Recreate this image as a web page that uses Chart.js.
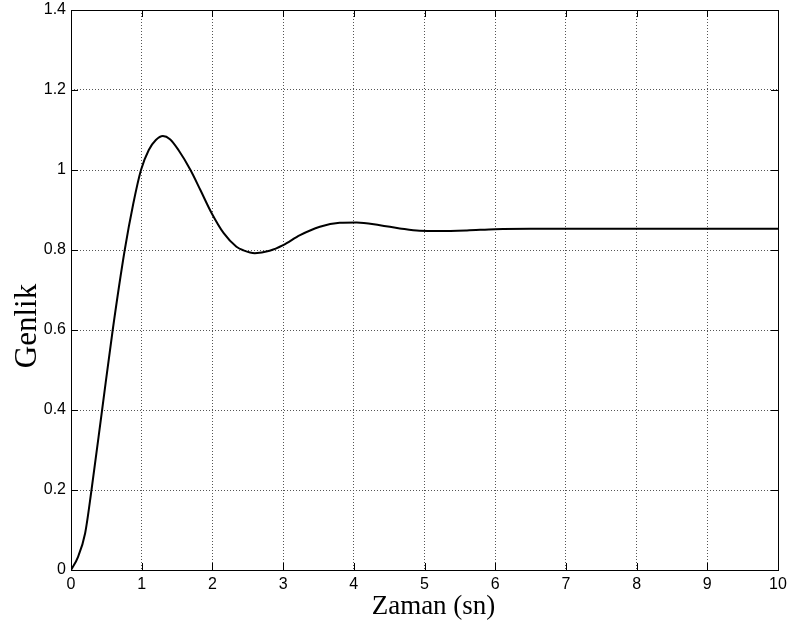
<!DOCTYPE html>
<html>
<head>
<meta charset="utf-8">
<script src="https://cdn.jsdelivr.net/npm/chart.js@4/dist/chart.umd.min.js"></script>
<style>
  html, body { margin: 0; padding: 0; background: #fff; }
  #wrap { width: 787px; height: 623px; }
</style>
</head>
<body>
<div id="wrap"><canvas id="c"></canvas></div>
<script>
// values
const times = [0, 0.1, 0.2, 0.29, 0.44, 0.59, 0.76, 0.88, 0.99, 1.1, 1.2, 1.3, 1.4, 1.52, 1.69, 1.83, 1.99, 2.16, 2.34, 2.44, 2.6, 2.81, 3.0, 3.24, 3.52, 3.8, 4.04, 4.37, 4.65, 4.93, 5.21, 5.6, 6.0, 6.5, 7.0, 8.0, 9.0, 10.0];
const amplitude = [0, 0.033, 0.092, 0.2, 0.4, 0.6, 0.8, 0.915, 1.0, 1.05, 1.075, 1.085, 1.077, 1.05, 1.0, 0.95, 0.892, 0.842, 0.808, 0.799, 0.792, 0.798, 0.812, 0.837, 0.858, 0.868, 0.869, 0.862, 0.854, 0.848, 0.8475, 0.849, 0.852, 0.853, 0.853, 0.853, 0.853, 0.853];
const xTickLabels = ['0', '1', '2', '3', '4', '5', '6', '7', '8', '9', '10'];
const yTickLabels = ['0', '0.2', '0.4', '0.6', '0.8', '1', '1.2', '1.4'];
const xTitle = 'Zaman (sn)';
const yTitle = 'Genlik';

const points = times.map((t, i) => ({ x: t, y: amplitude[i] }));

// box, inward ticks and axis titles, matlab style
const matlabAxes = {
  id: 'matlabAxes',
  afterDraw(chart) {
    const { ctx, chartArea: a, scales } = chart;
    ctx.save();
    ctx.strokeStyle = '#000';
    ctx.lineWidth = 1;
    ctx.beginPath();
    scales.x.ticks.forEach(t => {
      const px = Math.round(scales.x.getPixelForValue(t.value)) + 0.5;
      ctx.moveTo(px, a.bottom); ctx.lineTo(px, a.bottom - 7);
      ctx.moveTo(px, a.top); ctx.lineTo(px, a.top + 7);
    });
    scales.y.ticks.forEach(t => {
      const py = Math.round(scales.y.getPixelForValue(t.value)) + 0.5;
      ctx.moveTo(a.left, py); ctx.lineTo(a.left + 7, py);
      ctx.moveTo(a.right, py); ctx.lineTo(a.right - 7, py);
    });
    ctx.stroke();
    ctx.strokeRect(Math.round(a.left) + 0.5, Math.round(a.top) + 0.5,
      Math.round(a.right - a.left), Math.round(a.bottom - a.top));

    ctx.fillStyle = '#000';
    ctx.font = '27px "Liberation Serif", "Times New Roman", serif';
    ctx.textAlign = 'center';
    ctx.textBaseline = 'alphabetic';
    ctx.fillText(xTitle, (a.left + a.right) / 2 + 9, a.bottom + 44);

    ctx.translate(a.left - 35, (a.top + a.bottom) / 2 + 36);
    ctx.rotate(-Math.PI / 2);
    ctx.font = '31px "Liberation Serif", "Times New Roman", serif';
    ctx.fillText(yTitle, 0, 0);
    ctx.restore();
  }
};

const tickFont = { family: '"Liberation Sans", Arial, sans-serif', size: 16 };
// tick marks drawn by the plugin; the library's own ones are kept invisible
// and only used as spacing between axis and labels
const gridOpts = { color: '#555', lineWidth: 1, drawTicks: true, tickLength: 5, tickColor: 'rgba(0,0,0,0)' };

new Chart(document.getElementById('c'), {
  type: 'line',
  data: {
    datasets: [{
      data: points,
      borderColor: '#000',
      borderWidth: 2,
      pointRadius: 0,
      fill: false,
      cubicInterpolationMode: 'monotone'
    }]
  },
  options: {
    responsive: true,
    maintainAspectRatio: false,
    animation: false,
    layout: { padding: { top: 10, right: 9, left: 0, bottom: 0 } },
    plugins: { legend: { display: false }, tooltip: { enabled: false } },
    scales: {
      x: {
        type: 'linear',
        min: 0,
        max: 10,
        ticks: {
          stepSize: 1,
          color: '#000',
          font: tickFont,
          padding: 0,
          maxRotation: 0,
          callback: (v, i) => xTickLabels[i]
        },
        grid: gridOpts,
        border: { display: false, dash: [1, 2] },
        afterFit(s) { s.height = 53; }
      },
      y: {
        min: 0,
        max: 1.4,
        ticks: {
          stepSize: 0.2,
          color: '#000',
          font: tickFont,
          padding: 0,
          callback: (v, i) => yTickLabels[i]
        },
        grid: gridOpts,
        border: { display: false, dash: [1, 2] },
        afterFit(s) { s.width = 71; }
      }
    }
  },
  plugins: [matlabAxes]
});
</script>
</body>
</html>
